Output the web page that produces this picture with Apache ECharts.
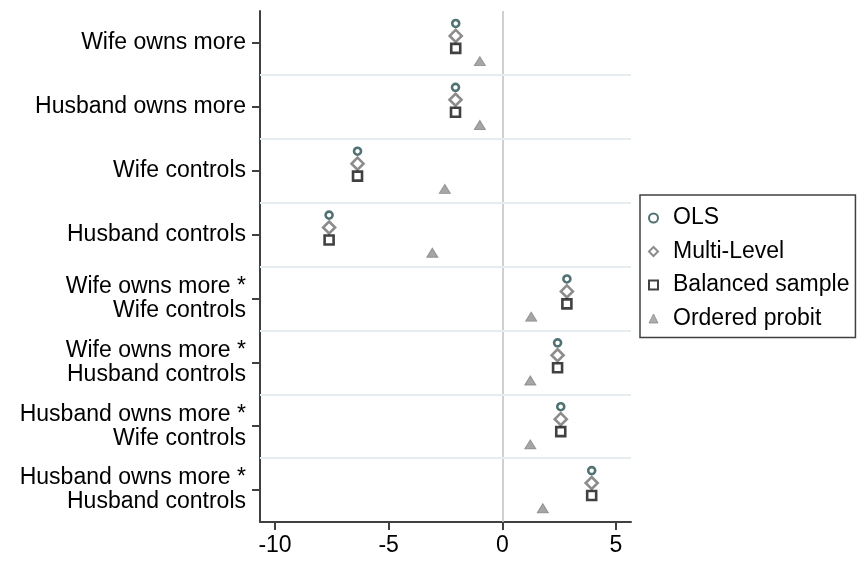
<!DOCTYPE html>
<html>
<head>
<meta charset="utf-8">
<script src="https://cdn.jsdelivr.net/npm/echarts@6/dist/echarts.min.js"></script>
<style>html,body{margin:0;padding:0;background:#fff}#c{width:857px;height:562px}</style>
</head>
<body>
<div id="c"></div>
<script>
const categories = [
  'Wife owns more',
  'Husband owns more',
  'Wife controls',
  'Husband controls',
  'Wife owns more *\nWife controls',
  'Wife owns more *\nHusband controls',
  'Husband owns more *\nWife controls',
  'Husband owns more *\nHusband controls'
];
const olsValues      = [-2.05, -2.06, -6.37, -7.62, 2.84, 2.43, 2.57, 3.93];
const multiLevelVals = [-2.05, -2.06, -6.37, -7.62, 2.84, 2.43, 2.57, 3.93];
const balancedVals   = [-2.05, -2.06, -6.37, -7.62, 2.84, 2.43, 2.57, 3.93];
const probitVals     = [-0.99, -0.99, -2.53, -3.08, 1.27, 1.23, 1.23, 1.78];
const xTicks = [-10, -5, 0, 5];
const seriesNames = ['OLS', 'Multi-Level', 'Balanced sample', 'Ordered probit'];

const offsets = [0.195, 0.39, 0.585, 0.785];
const labelPos = categories.map((c, i) => i + 0.5);
const sepPos = categories.slice(1).map((c, i) => i + 1);

function pts(vals, k) { return vals.map((v, i) => [v, i + offsets[k]]); }

const styles = [
  { symbol: 'circle', symbolSize: 7, itemStyle: { color: '#ffffff', borderColor: '#264f4f', borderWidth: 2.6 } },
  { symbol: 'diamond', symbolSize: 12, itemStyle: { color: '#ffffff', borderColor: '#6f6f6f', borderWidth: 2.6 } },
  { symbol: 'rect', symbolSize: 9, itemStyle: { color: '#ffffff', borderColor: '#111111', borderWidth: 2.6 } },
  { symbol: 'triangle', symbolSize: [11, 9], itemStyle: { color: '#909090', borderColor: '#858585', borderWidth: 1 } }
];
const legendStyles = [
  { color: '#ffffff', borderColor: '#264f4f', borderWidth: 2 },
  { color: '#ffffff', borderColor: '#6f6f6f', borderWidth: 2 },
  { color: '#ffffff', borderColor: '#111111', borderWidth: 2 },
  { color: '#9a9a9a', borderColor: '#8a8a8a', borderWidth: 1 }
];
const allVals = [olsValues, multiLevelVals, balancedVals, probitVals];

const series = allVals.map((vals, k) => ({
  name: seriesNames[k],
  type: 'scatter',
  data: pts(vals, k),
  symbol: styles[k].symbol,
  symbolSize: styles[k].symbolSize,
  itemStyle: styles[k].itemStyle,
  z: 5
}));
series[0].markLine = {
  silent: true,
  symbol: 'none',
  label: { show: false },
  animation: false,
  data: [{ xAxis: 0, lineStyle: { color: '#c4c4c4', width: 1.6, type: 'solid' } }]
    .concat(sepPos.map(y => ({ yAxis: y, lineStyle: { color: '#e5edf0', width: 2, type: 'solid' } })))
};

const FF = 'Liberation Sans, Arial, sans-serif';
const chart = echarts.init(document.getElementById('c'), null, { renderer: 'canvas' });
chart.setOption({
  animation: false,
  backgroundColor: '#ffffff',
  textStyle: { fontFamily: FF },
  grid: { left: 260, right: 226, top: 11, bottom: 40 },
  xAxis: {
    type: 'value', min: -10.66, max: 5.66,
    axisLine: { show: true, onZero: false, lineStyle: { color: '#404040', width: 2 } },
    axisTick: { show: true, customValues: xTicks, length: 8, lineStyle: { color: '#404040', width: 2 } },
    axisLabel: { customValues: xTicks, fontSize: 23, color: '#000', margin: 12, fontFamily: FF },
    splitLine: { show: false }
  },
  yAxis: {
    type: 'value', min: 0, max: 8, inverse: true,
    axisLine: { show: true, onZero: false, lineStyle: { color: '#404040', width: 2 } },
    axisTick: { show: true, customValues: labelPos, length: 8, lineStyle: { color: '#404040', width: 2 } },
    axisLabel: {
      customValues: labelPos, fontSize: 23, lineHeight: 24, color: '#000', margin: 14,
      fontFamily: FF, padding: [3, 0, 0, 0],
      formatter: v => categories[Math.floor(v)]
    },
    splitLine: { show: false }
  },
  legend: {
    orient: 'vertical', left: 640, top: 195,
    padding: [11, 6, 7, 8],
    borderColor: '#404040', borderWidth: 1.5,
    itemWidth: 9, itemHeight: 9, itemGap: 9.5,
    textStyle: { fontSize: 23, lineHeight: 24, color: '#000', padding: [0, 0, 0, 10], fontFamily: FF },
    data: seriesNames.map((n, k) => ({
      name: n,
      icon: ['circle', 'diamond', 'rect', 'triangle'][k],
      itemStyle: legendStyles[k]
    }))
  },
  series: series
});
</script>
</body>
</html>
